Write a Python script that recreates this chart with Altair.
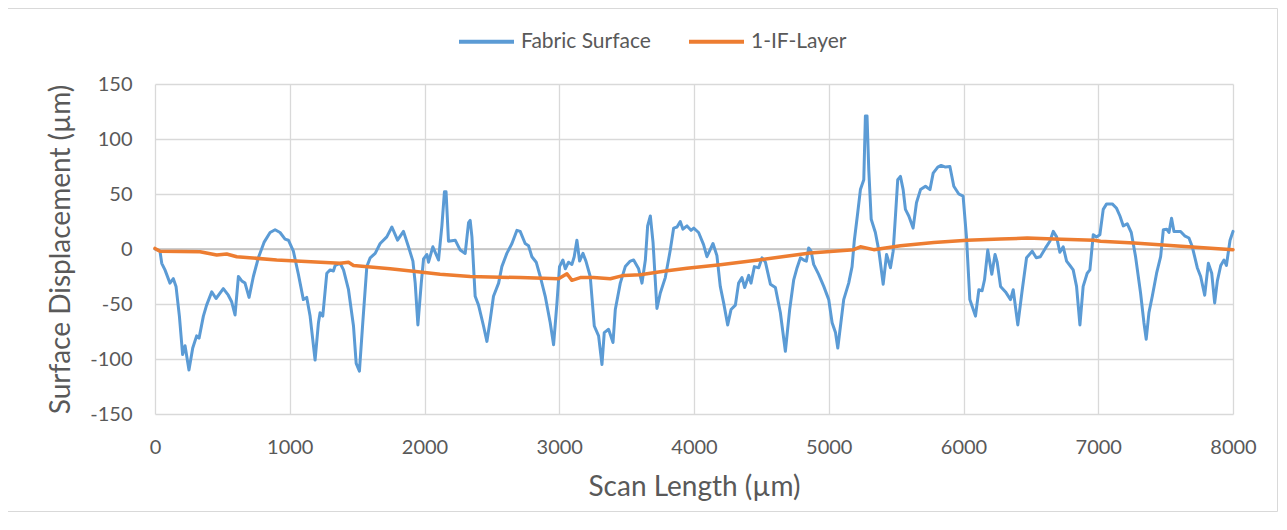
import altair as alt
import pandas as pd

# Fabric Surface profile (scan length in µm, displacement in µm)
fabric_x = [0, 37, 50, 74, 111, 136, 156, 181, 205, 223, 252, 280, 309, 327, 359, 383, 421, 453, 507, 544,
            569, 594, 619, 644, 668, 698, 730, 767, 809, 854, 891, 928, 965, 990, 1027, 1064, 1101, 1126, 1151, 1188,
            1213, 1225, 1245, 1275, 1300, 1324, 1337, 1374, 1399, 1436, 1473, 1493, 1517, 1542, 1572, 1597, 1634, 1671, 1720, 1758,
            1800, 1844, 1881, 1914, 1931, 1951, 1976, 1993, 2018, 2030, 2062, 2104, 2129, 2148, 2160, 2178, 2228, 2265, 2302, 2327,
            2339, 2352, 2376, 2401, 2438, 2463, 2488, 2512, 2550, 2574, 2611, 2649, 2686, 2710, 2747, 2772, 2797, 2829, 2859, 2896,
            2933, 2958, 2983, 3002, 3027, 3045, 3069, 3094, 3111, 3131, 3151, 3176, 3198, 3230, 3260, 3292, 3317, 3334, 3366, 3399,
            3416, 3453, 3490, 3527, 3552, 3589, 3614, 3639, 3656, 3676, 3696, 3725, 3750, 3787, 3824, 3849, 3874, 3898, 3918, 3948,
            3978, 3998, 4034, 4071, 4096, 4141, 4170, 4195, 4220, 4250, 4275, 4307, 4331, 4356, 4376, 4406, 4423, 4448, 4480, 4505,
            4530, 4567, 4604, 4641, 4678, 4710, 4740, 4765, 4790, 4814, 4834, 4851, 4869, 4888, 4925, 4963, 5000, 5025, 5050, 5067,
            5087, 5111, 5148, 5173, 5190, 5215, 5235, 5260, 5272, 5284, 5297, 5315, 5346, 5371, 5404, 5429, 5458, 5478, 5495, 5512,
            5532, 5552, 5569, 5594, 5626, 5651, 5681, 5718, 5751, 5775, 5809, 5834, 5866, 5899, 5928, 5965, 5997, 6022, 6047, 6089,
            6114, 6138, 6156, 6180, 6210, 6234, 6250, 6275, 6312, 6349, 6369, 6403, 6436, 6468, 6510, 6540, 6570, 6609, 6641, 6666,
            6691, 6715, 6740, 6765, 6790, 6814, 6839, 6864, 6888, 6918, 6938, 6963, 6987, 7012, 7037, 7062, 7104, 7136, 7161, 7186,
            7215, 7245, 7277, 7314, 7339, 7356, 7376, 7401, 7433, 7463, 7483, 7508, 7525, 7544, 7562, 7611, 7641, 7673, 7698, 7735,
            7760, 7790, 7817, 7842, 7864, 7884, 7909, 7933, 7951, 7978, 8000]
fabric_y = [0, -2, -13, -19, -31, -27, -34, -61, -96, -88, -110, -90, -79, -81, -61, -51, -39, -45, -36, -42,
            -48, -60, -25, -29, -31, -44, -25, -8, 6, 15, 17.5, 15, 9, 8, -2, -23, -46, -44, -61, -101,
            -67, -58, -61, -22, -19, -20, -15, -13, -19, -37, -70, -104, -111, -67, -16, -8, -4, 5, 11, 20,
            8, 16, 2, -11, -31, -69, -31, -9, -5, -12, 2, -10, 21, 52, 52, 7, 8, -1, -4, 24,
            26, 11, -43, -51, -70, -84, -64, -43, -31, -16, -4, 5, 17, 16, 5, 3, -7, -12, -25, -43,
            -67, -87, -49, -16, -10, -18, -12, -14, -7, 8, -11, -4, -11, -25, -70, -79, -105, -76, -73, -85,
            -55, -31, -16, -11, -10, -18, -31, -10, 21, 30, 6, -54, -40, -26, -1, 19, 20, 25, 18, 21,
            17, 19, 15, 4, -7, 5, -6, -34, -49, -69, -55, -51, -31, -26, -35, -24, -31, -16, -17, -8,
            -12, -32, -35, -58, -93, -55, -28, -17, -8, -10, -11, 1, -2, -14, -23, -34, -46, -67, -76, -90,
            -70, -46, -31, -16, 8, 33, 54, 63, 121, 121, 72, 27, 15, -1, -32, -5, -17, -2, 30, 63,
            66, 54, 36, 30, 19, 42, 54, 57, 54, 69, 74.5, 76, 74.5, 75, 57, 50, 48, 11, -46, -61,
            -37, -38, -28, -1, -23, -5, -12, -34, -39, -46, -37, -69, -37, -8, -2, -8, -7, 1, 7, 16,
            11, -3, 2, -11, -15, -19, -34, -69, -34, -22, -19, 13, 11, 13, 36, 41, 41, 37, 30, 21,
            23, 15, -7, -40, -67, -82, -58, -43, -22, -7, 17.5, 18, 15, 28, 16, 16, 12, 10, 2, -17,
            -25, -42, -13, -22, -49, -29, -15, -10, -15, 8, 16]

# 1-IF-Layer profile
layer_x = [0, 37, 334, 458, 532, 607, 903, 1374, 1436, 1473, 1745, 1968, 2116, 2339, 2710, 2995, 3057, 3094,
           3156, 3255, 3379, 3478, 3602, 3787, 3948, 4195, 4492, 4863, 5185, 5235, 5334, 5532, 5780, 6027,
           6275, 6473, 6671, 6968, 7017, 7265, 7562, 8000]
layer_y = [0.5, -2, -2.5, -5.5, -4.5, -7, -10, -13, -12, -15, -18, -21, -23, -25, -26, -27, -22.5, -28.5,
           -26, -26, -27, -24, -23.5, -20, -17.6, -14.3, -9.7, -3.6, -0.6, 2, -0.6, 3, 6, 8,
           9, 10, 9, 8, 7, 5.5, 3, -0.6]

series_names = ["Fabric Surface", "1-IF-Layer"]
series_colors = ["#5B9BD5", "#ED7D31"]
x_ticks = [0, 1000, 2000, 3000, 4000, 5000, 6000, 7000, 8000]
y_ticks = [-150, -100, -50, 0, 50, 100, 150]

df = pd.concat([
    pd.DataFrame({"x": fabric_x, "y": fabric_y, "series": series_names[0], "order": range(len(fabric_x))}),
    pd.DataFrame({"x": layer_x, "y": layer_y, "series": series_names[1], "order": range(len(layer_x))}),
])

FONT = "Lato"
TXT = "#595959"

color = alt.Color(
    "series:N",
    scale=alt.Scale(domain=series_names, range=series_colors),
    legend=alt.Legend(
        title=None, orient="none", direction="horizontal",
        legendX=302, legendY=-72, padding=0,
        symbolType="stroke", symbolSize=3025, symbolStrokeWidth=4,
        labelFontSize=21, labelFont=FONT, labelColor=TXT, labelOffset=5,
        columnPadding=30,
    ),
)

xenc = alt.X(
    "x:Q", scale=alt.Scale(domain=[0, 8000], nice=False),
    axis=alt.Axis(values=x_ticks, title="Scan Length (µm)", labelExpr="'' + datum.value", labelFlush=False,
                  labelBaseline="alphabetic", labelPadding=39,
                  titleY=81, titleBaseline="alphabetic"),
)
yenc = alt.Y(
    "y:Q", scale=alt.Scale(domain=[-150, 150], nice=False),
    axis=alt.Axis(values=y_ticks, title="Surface Displacement (µm)", labelExpr="'' + datum.value", labelFlush=False,
                  labelPadding=23, titleX=-86, titleY=165, titleAngle=-90,
                  titleBaseline="alphabetic", titleAlign="center"),
)

border = alt.Chart(pd.DataFrame({"a": [0]})).mark_rect(
    fillOpacity=0, stroke="#D9D9D9", strokeWidth=1
).encode(x=alt.value(-147.5), x2=alt.value(1122.5), y=alt.value(-75.5), y2=alt.value(427.5))

zero = alt.Chart(pd.DataFrame({"z": [0]})).mark_rule(color="#BFBFBF", strokeWidth=1.5).encode(
    y=alt.Y("z:Q", scale=alt.Scale(domain=[-150, 150], nice=False))
)

base = alt.Chart(df).mark_line(strokeJoin="round", strokeCap="round")
fabric = base.transform_filter(alt.datum.series == series_names[0]).encode(
    x=xenc, y=yenc, color=color, order="order:Q", strokeWidth=alt.value(3))
layer = base.transform_filter(alt.datum.series == series_names[1]).encode(
    x=xenc, y=yenc, color=color, order="order:Q", strokeWidth=alt.value(3.5))

chart = alt.layer(border, zero, fabric, layer).properties(
    width=1078, height=330,
    autosize=alt.AutoSizeParams(type="none"),
    padding={"left": 147, "top": 76, "right": 46, "bottom": 98},
).configure_axis(
    grid=True, gridColor="#D9D9D9", gridWidth=1.3, domain=False, ticks=False,
    labelFont=FONT, labelFontSize=20, labelColor=TXT,
    titleFont=FONT, titleFontSize=28, titleColor=TXT, titleFontWeight="normal",
).configure_view(strokeWidth=0).configure_legend(labelFont=FONT)

chart.save("out.html", embed_options={"renderer": "svg", "actions": False})
